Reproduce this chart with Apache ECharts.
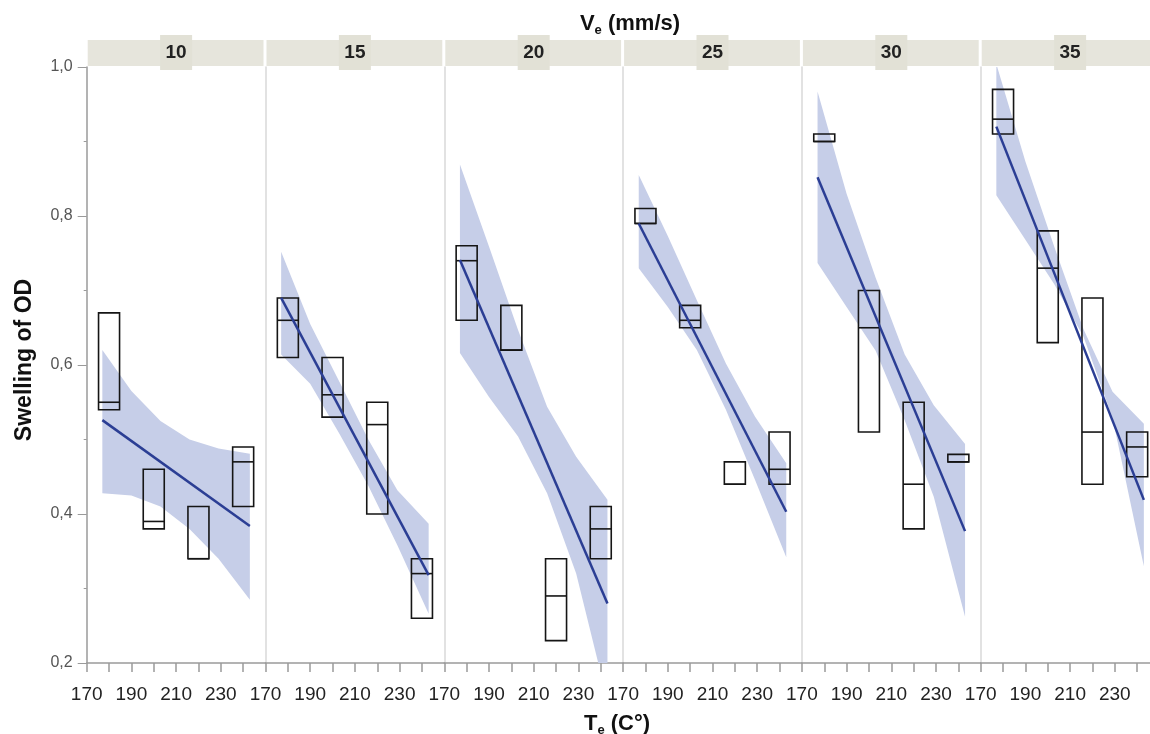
<!DOCTYPE html>
<html>
<head>
<meta charset="utf-8">
<title>Swelling of OD</title>
<script src="https://cdn.jsdelivr.net/npm/echarts@6/dist/echarts.min.js"></script>
<style>
  html, body { margin: 0; padding: 0; background: #fff; }
  #chart { width: 1150px; height: 734px; }
</style>
</head>
<body>
<div id="chart"></div>
<script>
// V_e panels (mm/s)
const speeds = ["10", "15", "20", "25", "30", "35"];
// extrusion temperatures of the boxes
const temps = [180, 200, 220, 240];
// box bottom / median / top for each panel
const boxLow = [
  [0.54, 0.38, 0.34, 0.41],
  [0.61, 0.53, 0.40, 0.26],
  [0.66, 0.62, 0.23, 0.34],
  [0.79, 0.65, 0.44, 0.44],
  [0.90, 0.51, 0.38, 0.47],
  [0.91, 0.63, 0.44, 0.45],
];
const boxMed = [
  [0.55, 0.39, 0.34, 0.47],
  [0.66, 0.56, 0.52, 0.32],
  [0.74, 0.62, 0.29, 0.38],
  [0.79, 0.66, 0.44, 0.46],
  [0.90, 0.65, 0.44, 0.47],
  [0.93, 0.73, 0.51, 0.49],
];
const boxHigh = [
  [0.67, 0.46, 0.41, 0.49],
  [0.69, 0.61, 0.55, 0.34],
  [0.76, 0.68, 0.34, 0.41],
  [0.81, 0.68, 0.47, 0.51],
  [0.91, 0.70, 0.55, 0.48],
  [0.97, 0.78, 0.69, 0.51],
];
// fitted line, start and end
const fitTemps = [177, 243];
const fitValues = [
  [0.526, 0.384],
  [0.690, 0.318],
  [0.741, 0.280],
  [0.790, 0.403],
  [0.852, 0.377],
  [0.920, 0.419],
];
// confidence band
const bandTemps = [177, 190, 203, 216, 229, 243];
const bandUpper = [
  [0.620, 0.565, 0.525, 0.500, 0.488, 0.481],
  [0.752, 0.655, 0.578, 0.500, 0.432, 0.387],
  [0.869, 0.759, 0.647, 0.544, 0.477, 0.419],
  [0.855, 0.773, 0.687, 0.602, 0.531, 0.468],
  [0.967, 0.830, 0.717, 0.614, 0.546, 0.494],
  [1.004, 0.873, 0.758, 0.648, 0.564, 0.521],
];
const bandLower = [
  [0.428, 0.425, 0.410, 0.380, 0.340, 0.285],
  [0.614, 0.575, 0.508, 0.438, 0.358, 0.266],
  [0.616, 0.557, 0.504, 0.428, 0.320, 0.150],
  [0.730, 0.678, 0.620, 0.540, 0.446, 0.342],
  [0.737, 0.678, 0.619, 0.526, 0.423, 0.262],
  [0.828, 0.768, 0.708, 0.638, 0.529, 0.330],
];
const xTickLabels = [170, 190, 210, 230];

const PANEL_LEFT = 86.7;
const PANEL_W = 178.8;
const PLOT_TOP = 67;
const PLOT_H = 596;
const BOX_HALF = 4.7;
const BAND_COLOR = "#c6cee8";
const LINE_COLOR = "#2b3e94";
const FONT = "Liberation Sans";

const renderBox = (params, api) => {
  const t = api.value(0);
  const p1 = api.coord([t - BOX_HALF, api.value(3)]);
  const p2 = api.coord([t + BOX_HALF, api.value(1)]);
  const m = api.coord([t, api.value(2)]);
  const style = { fill: "none", stroke: "#151515", lineWidth: 1.6 };
  return {
    type: "group",
    children: [
      { type: "rect", shape: { x: p1[0], y: p1[1], width: p2[0] - p1[0], height: p2[1] - p1[1] }, style },
      { type: "line", shape: { x1: p1[0], y1: m[1], x2: p2[0], y2: m[1] }, style },
    ],
  };
};

// the whole band is one polygon, drawn when the first item is rendered
const renderBand = (params, api) => {
  if (params.dataIndexInside !== 0) return;
  const top = [];
  const bottom = [];
  for (let k = 0; k < params.dataInsideLength; k++) {
    top.push(api.coord([api.value(0, k), api.value(2, k)]));
    bottom.unshift(api.coord([api.value(0, k), api.value(1, k)]));
  }
  return {
    type: "polygon",
    shape: { points: top.concat(bottom) },
    style: { fill: BAND_COLOR },
  };
};

const grid = [], xAxis = [], yAxis = [], series = [], graphic = [];
speeds.forEach((sp, i) => {
  const left = PANEL_LEFT + i * PANEL_W;
  grid.push({ left, top: PLOT_TOP, width: PANEL_W, height: PLOT_H, outerBoundsMode: "none" });
  xAxis.push({
    gridIndex: i,
    type: "value",
    min: 170,
    max: 250,
    interval: 10,
    splitLine: { show: false },
    axisLine: { lineStyle: { color: "#9a9a9a", width: 1.5 } },
    axisTick: { length: 9, lineStyle: { color: "#9a9a9a", width: 1.5 } },
    axisLabel: {
      margin: 22,
      color: "#222",
      fontSize: 19,
      fontFamily: FONT,
      showMaxLabel: false,
      formatter: (v) => (xTickLabels.includes(v) ? String(v) : ""),
    },
  });
  yAxis.push({
    gridIndex: i,
    type: "value",
    min: 0.2,
    max: 1.0,
    interval: 0.2,
    splitLine: { show: false },
    axisLine: { show: true, lineStyle: { color: i === 0 ? "#9a9a9a" : "#d8d8d8", width: 1.5 } },
    axisTick: { show: i === 0, length: 9, lineStyle: { color: "#9a9a9a" } },
    minorTick: { show: i === 0, splitNumber: 2, length: 3, lineStyle: { color: "#9a9a9a" } },
    axisLabel: {
      show: i === 0,
      margin: 14,
      color: "#555",
      fontSize: 16,
      fontFamily: FONT,
      formatter: (v) => v.toFixed(1).replace(".", ","),
    },
  });

  series.push({
    type: "custom",
    xAxisIndex: i,
    yAxisIndex: i,
    renderItem: renderBand,
    encode: { x: 0, y: [1, 2] },
    data: bandTemps.map((t, j) => [t, bandLower[i][j], bandUpper[i][j]]),
    clip: true,
    silent: true,
    z: 1,
  });
  series.push({
    type: "custom",
    xAxisIndex: i,
    yAxisIndex: i,
    renderItem: renderBox,
    encode: { x: 0, y: [1, 2, 3] },
    data: temps.map((t, j) => [t, boxLow[i][j], boxMed[i][j], boxHigh[i][j]]),
    silent: true,
    z: 2,
  });
  series.push({
    type: "line",
    xAxisIndex: i,
    yAxisIndex: i,
    data: fitTemps.map((t, j) => [t, fitValues[i][j]]),
    symbol: "none",
    lineStyle: { color: LINE_COLOR, width: 2.5 },
    silent: true,
    z: 3,
  });

  // facet strip
  const cx = left + PANEL_W / 2;
  graphic.push({
    type: "rect",
    shape: { x: left + 1, y: 40, width: PANEL_W - 3, height: 26 },
    style: { fill: "#e6e5dc" },
    z: 1,
  });
  graphic.push({
    type: "rect",
    shape: { x: cx - 16, y: 35, width: 32, height: 35 },
    style: { fill: "#e2e1d6" },
    z: 2,
  });
  graphic.push({
    type: "text",
    x: cx,
    y: 53,
    style: { text: sp, fontSize: 19, fontWeight: "bold", fontFamily: FONT, fill: "#222", align: "center", verticalAlign: "middle" },
    z: 3,
  });
});

graphic.push({
  type: "text",
  x: 25,
  y: 360,
  rotation: Math.PI / 2,
  style: { text: "Swelling of OD", fontSize: 23, fontWeight: "bold", fontFamily: FONT, fill: "#111", align: "center", verticalAlign: "middle" },
});

const subRich = {
  a: { fontSize: 22, fontWeight: "bold", fontFamily: FONT, color: "#111", lineHeight: 26 },
  b: { fontSize: 13, fontWeight: "bold", fontFamily: FONT, color: "#111", lineHeight: 26, verticalAlign: "bottom" },
};

const option = {
  backgroundColor: "#fff",
  animation: false,
  title: [
    { text: "{a|V}{b|e}{a| (mm/s)}", left: 625, top: 6, textAlign: "center", textStyle: { rich: subRich } },
    { text: "{a|T}{b|e}{a| (C°)}", left: 612, top: 706, textAlign: "center", textStyle: { rich: subRich } },
  ],
  grid,
  xAxis,
  yAxis,
  series,
  graphic,
};

const chart = echarts.init(document.getElementById("chart"));
chart.setOption(option);
window.addEventListener("resize", () => chart.resize());
</script>
</body>
</html>
